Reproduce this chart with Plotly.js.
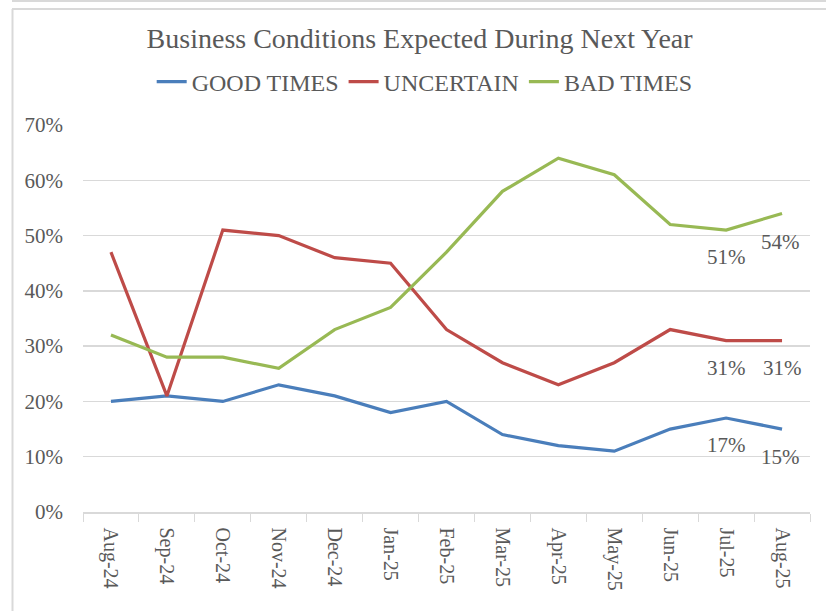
<!DOCTYPE html>
<html>
<head>
<meta charset="utf-8">
<script src="https://cdn.plot.ly/plotly-3.0.1.min.js"></script>
<style>html,body{margin:0;padding:0;background:#fff;}#chart{width:826px;height:611px;}</style>
</head>
<body>
<div id="chart"></div>
<script>
var months = ["Aug-24","Sep-24","Oct-24","Nov-24","Dec-24","Jan-25","Feb-25","Mar-25","Apr-25","May-25","Jun-25","Jul-25","Aug-25"];
var goodTimes = [0.20,0.21,0.20,0.23,0.21,0.18,0.20,0.14,0.12,0.11,0.15,0.17,0.15];
var uncertain = [0.47,0.21,0.51,0.50,0.46,0.45,0.33,0.27,0.23,0.27,0.33,0.31,0.31];
var badTimes  = [0.32,0.28,0.28,0.26,0.33,0.37,0.47,0.58,0.64,0.61,0.52,0.51,0.54];
var yTicks = [0,0.1,0.2,0.3,0.4,0.5,0.6,0.7];

var serif = "'Liberation Serif', 'DejaVu Serif', serif";
var tc = "#595959";

function tr(name, y, color){
  return {x: months, y: y, name: name, type: "scatter", mode: "lines",
    line: {color: color, width: 3.2}, hoverinfo: "skip"};
}
var data = [
  tr("GOOD TIMES", goodTimes, "#4A7EBB"),
  tr("UNCERTAIN", uncertain, "#BE4B48"),
  tr("BAD TIMES", badTimes, "#98B954")
];

var annotations = [];
[goodTimes, uncertain, badTimes].forEach(function(s, si){
  [months.length-2, months.length-1].forEach(function(i){
    var xs = 0, ys = -27;
    if (si === 2 && i === months.length-1) { xs = -2; ys = -29; }
    if (si === 0 && i === months.length-1) { xs = -2; ys = -28; }
    annotations.push({x: months[i], y: s[i], xref: "x", yref: "y",
      text: Math.round(s[i]*100) + "%", showarrow: false, xshift: xs, yshift: ys,
      font: {family: serif, size: 21, color: tc}});
  });
});

function px2x(p){ return (p-83)/727; }
function px2y(p){ return (512-p)/387; }
var frameColor = "#D9D9D9";
var shapes = [
  {type:"line", xref:"paper", yref:"paper", x0:px2x(12), x1:px2x(830), y0:px2y(1), y1:px2y(1), line:{color:frameColor, width:2}},
  {type:"line", xref:"paper", yref:"paper", x0:px2x(12), x1:px2x(830), y0:px2y(9), y1:px2y(9), line:{color:frameColor, width:2}},
  {type:"line", xref:"paper", yref:"paper", x0:px2x(12.5), x1:px2x(12.5), y0:px2y(9), y1:px2y(615), line:{color:frameColor, width:2}}
];

var layout = {
  width: 826, height: 611,
  margin: {l: 83, r: 16, t: 125, b: 99},
  font: {family: serif, color: tc},
  paper_bgcolor: "#fff", plot_bgcolor: "#fff",
  title: {text: "Business Conditions Expected During Next Year", x: 0.508, xanchor: "center", y: 0.938, yanchor: "middle",
    font: {family: serif, size: 28, color: tc}},
  showlegend: true,
  legend: {orientation: "h", x: 0.47, xanchor: "center", y: 1.111, yanchor: "middle",
    font: {family: serif, size: 24, color: tc}},
  xaxis: {type: "category", tickangle: 90, tickson: "boundaries", ticks: "outside", ticklen: 8,
    tickcolor: frameColor, showline: true, linecolor: frameColor, linewidth: 1.5, showgrid: false,
    ticklabelstandoff: 10,
    tickfont: {family: serif, size: 20, color: tc}, range: [-0.5, 12.5], fixedrange: true},
  yaxis: {range: [0, 0.7], tickvals: yTicks, tickformat: ".0%", showgrid: true, gridcolor: frameColor, gridwidth: 1.5,
    zeroline: false, showline: false, ticks: "", ticklen: 0, ticklabelstandoff: 19,
    tickfont: {family: serif, size: 21, color: tc}, fixedrange: true},
  annotations: annotations,
  shapes: shapes
};
Plotly.newPlot("chart", data, layout, {displayModeBar: false, staticPlot: true});
</script>
</body>
</html>
